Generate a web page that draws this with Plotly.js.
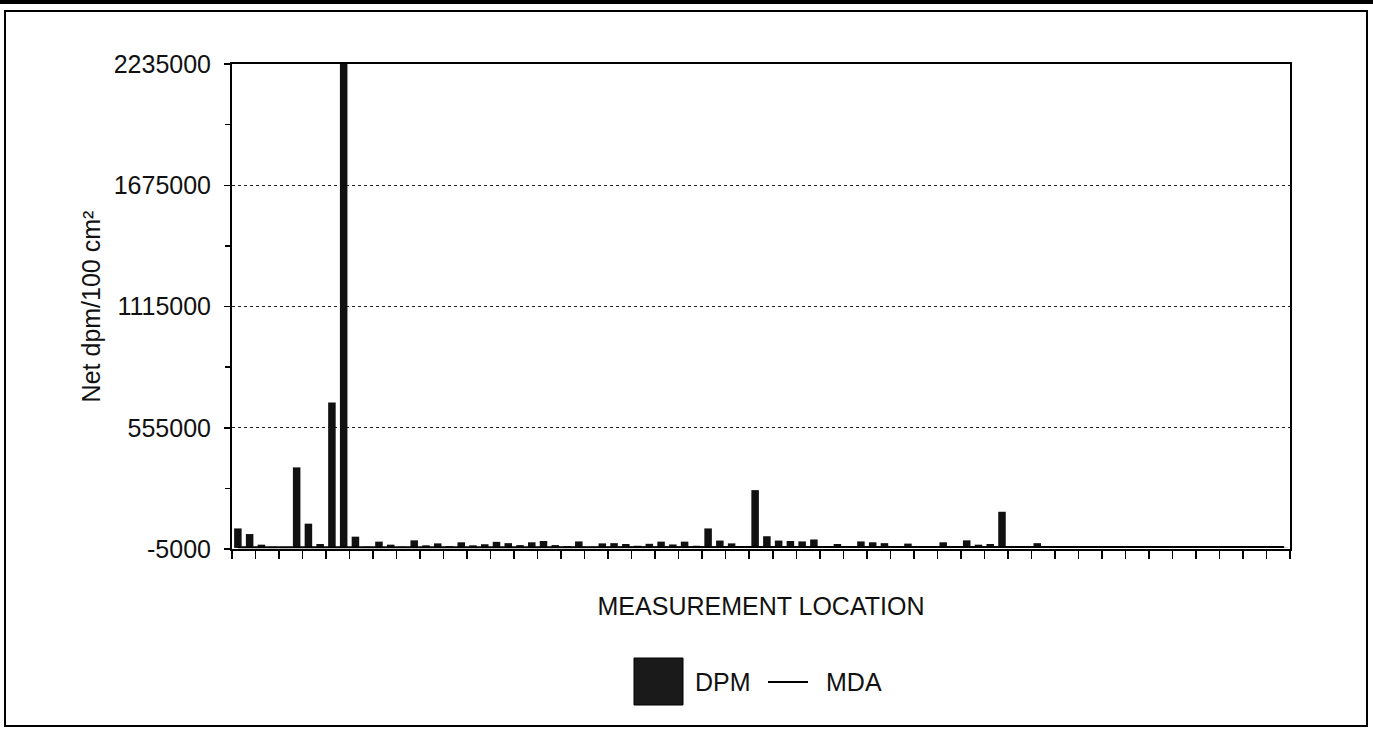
<!DOCTYPE html>
<html>
<head>
<meta charset="utf-8">
<script src="https://cdn.plot.ly/plotly-3.0.1.min.js"></script>
<style>html,body{margin:0;padding:0;background:#fff;}#chart{width:1373px;height:732px;}</style>
</head>
<body>
<div id="chart"></div>
<script>
const dpm = [
  90000, 64000, 15000, 5000, 2000, 372000, 112000, 18000, 672000, 2235000,
  52000, 6000, 29000, 15000, 6000, 35000, 12000, 21000, 8000, 26000,
  12000, 17000, 28000, 22000, 13000, 26000, 32000, 13000, 8000, 30000,
  4000, 21000, 22000, 18000, 10000, 19000, 29000, 16000, 29000, 10000,
  90000, 34000, 21000, 3000, 267000, 54000, 34000, 32000, 30000, 39000,
  1000, 18000, 1000, 30000, 26000, 22000, 1000, 20000, 3000, 1000,
  26000, 1000, 35000, 15000, 18000, 167000, 1000, 3000, 22000, 1000,
  9000, 5000, 1000, 1000, 1000, 3000, 1000, 1000, 1000, 2000,
  1000, 5000, 1000, 1000, 1000, 1000, 8000, 1000, 1000, 1000
];
// MDA for each location (a thin line hugging the baseline)
const mda = [
  3500, 3500, 3500, 3500, 3500, 3500, 3500, 3500, 3500, 3500,
  3500, 3500, 3500, 3500, 3500, 3500, 3500, 3500, 3500, 3500,
  3500, 3500, 3500, 3500, 3500, 3500, 3500, 3500, 3500, 3500,
  3500, 3500, 3500, 3500, 3500, 3500, 3500, 3500, 3500, 3500,
  3500, 3500, 3500, 3500, 3500, 3500, 3500, 3500, 3500, 3500,
  3500, 3500, 3500, 3500, 3500, 3500, 3500, 3500, 3500, 3500,
  3500, 3500, 3500, 3500, 3500, 3500, 3500, 3500, 3500, 3500,
  4000, 4000, 4000, 4000, 4000, 4000, 4000, 4000, 4000, 4000,
  4000, 4000, 4000, 4000, 4000, 4000, 4000, 4000, 4000, 4000
];
const locations = dpm.map((_, i) => 'L' + (i + 1));
const yTickVals = [-5000, 555000, 1115000, 1675000, 2235000];
const yTickText = ['-5000', '555000', '1115000', '1675000', '2235000'];
const yMinorVals = [275000, 835000, 1395000, 1955000];
const yRange = [-5000, 2235000];
const xTitle = 'MEASUREMENT LOCATION';
const yTitle = 'Net dpm/100 cm²';
const legendNames = ['DPM', 'MDA'];

const FONT = 'Liberation Sans, Arial, Helvetica, sans-serif';
const W = 1373, H = 732;
const M = {l: 232, r: 83, t: 64, b: 183};
const PW = W - M.l - M.r, PH = H - M.t - M.b;
const px = x => (x - M.l) / PW;          // page pixel -> paper x
const py = y => (H - M.b - y) / PH;      // page pixel -> paper y

const traces = [
  {type: 'bar', x: locations, y: dpm, name: legendNames[0],
   marker: {color: '#111111', line: {width: 0}}, showlegend: false, hoverinfo: 'x+y'},
  {type: 'scatter', mode: 'lines', x: locations, y: mda, name: legendNames[1],
   line: {color: '#000000', width: 2}, showlegend: false, hoverinfo: 'x+y'}
];

const layout = {
  width: W, height: H,
  margin: M,
  paper_bgcolor: '#ffffff', plot_bgcolor: '#ffffff',
  font: {family: FONT, size: 25, color: '#111'},
  bargap: 0.36,
  showlegend: false,
  xaxis: {
    type: 'category', showticklabels: false,
    ticks: 'outside', ticklen: 8, tickwidth: 1.5, tickcolor: '#000',
    tickson: 'boundaries',
    showline: true, linecolor: '#000', linewidth: 2, mirror: true,
    showgrid: false, zeroline: false, fixedrange: true,
    title: {text: xTitle, font: {family: FONT, size: 25, color: '#111'}, standoff: 47}
  },
  yaxis: {
    range: yRange, tickmode: 'array', tickvals: yTickVals, ticktext: yTickText,
    ticks: 'outside', ticklen: 6, tickwidth: 1.5, tickcolor: '#000',
    ticklabelstandoff: 8,
    minor: {tickmode: 'array', tickvals: yMinorVals, ticks: 'outside', ticklen: 5, tickwidth: 1.5, tickcolor: '#000', showgrid: false},
    showline: true, linecolor: '#000', linewidth: 2, mirror: true,
    showgrid: true, gridcolor: '#222', griddash: 'dot', gridwidth: 1,
    zeroline: false, fixedrange: true,
    tickfont: {family: FONT, size: 25, color: '#111'},
    title: {text: yTitle, font: {family: FONT, size: 25, color: '#111'}, standoff: 6}
  },
  shapes: [
    // page header rule
    {type: 'line', xref: 'paper', yref: 'paper', x0: px(0), x1: px(W), y0: py(2), y1: py(2), line: {color: '#000', width: 4}},
    // outer frame
    {type: 'rect', xref: 'paper', yref: 'paper', x0: px(5), x1: px(1367), y0: py(726), y1: py(11), line: {color: '#000', width: 2}},
    // legend swatch (DPM)
    {type: 'rect', xref: 'paper', yref: 'paper', x0: px(634), x1: px(683), y0: py(705), y1: py(658), fillcolor: '#1a1a1a', line: {color: '#000', width: 1}},
    // legend line (MDA)
    {type: 'line', xref: 'paper', yref: 'paper', x0: px(768), x1: px(808), y0: py(682), y1: py(682), line: {color: '#000', width: 2}}
  ],
  annotations: [
    {xref: 'paper', yref: 'paper', x: px(693), y: py(682), text: legendNames[0], showarrow: false, xanchor: 'left', yanchor: 'middle', font: {family: FONT, size: 25, color: '#111'}},
    {xref: 'paper', yref: 'paper', x: px(824), y: py(682), text: legendNames[1], showarrow: false, xanchor: 'left', yanchor: 'middle', font: {family: FONT, size: 25, color: '#111'}}
  ]
};

Plotly.newPlot('chart', traces, layout, {staticPlot: true, displayModeBar: false});
</script>
</body>
</html>
